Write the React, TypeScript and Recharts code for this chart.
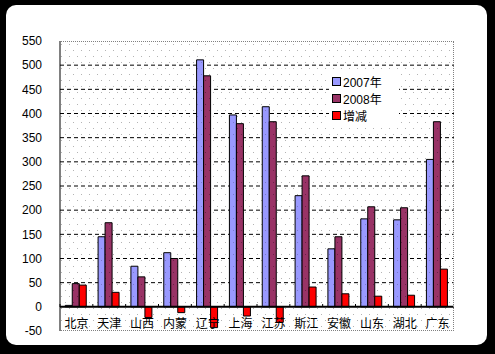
import React from 'react';
import { BarChart, Bar, XAxis, YAxis, CartesianGrid, ReferenceLine, Legend } from 'recharts';

const categories = ['北京', '天津', '山西', '内蒙', '辽宁', '上海', '江苏', '斯江', '安徽', '山东', '湖北', '广东'];
const values2007 = [3, 145, 84, 112, 511, 397, 414, 230, 120, 182, 180, 305];
const values2008 = [48, 174, 62, 100, 478, 379, 383, 271, 145, 207, 205, 383];
const valuesChange = [45, 30, -22, -12, -43, -19, -32, 41, 27, 22, 24, 78];
const yTicks = [-50, 0, 50, 100, 150, 200, 250, 300, 350, 400, 450, 500, 550];
const gridValues = [50, 100, 150, 200, 250, 300, 350, 400, 450, 500];
const seriesNames = ['2007年', '2008年', '增减'];
const seriesFills = ['url(#p2007)', 'url(#p2008)', '#FF0000'];
const legendColors = ['#9999FF', '#993366', '#FF0000'];

const data = categories.map((name, i) => ({
  name,
  y2007: values2007[i],
  y2008: values2008[i],
  change: valuesChange[i],
}));

const FONT = '"Liberation Sans", "Noto Sans CJK SC", Arial, sans-serif';

const CatTick = (props: any) => {
  const { x, y, payload, width, visibleTicksCount } = props;
  const band = width && visibleTicksCount ? width / visibleTicksCount : 32.8;
  const zeroY = y - 24;
  return (
    <g>
      <line x1={x - band / 2} x2={x - band / 2} y1={zeroY} y2={zeroY - 3} stroke="#000" />
      <text x={x} y={y} dy={-3} textAnchor="middle" fontSize={12} fill="#000" fontFamily={FONT}>
        {payload.value}
      </text>
    </g>
  );
};

const LegendContent = () => (
  <div style={{ background: '#fff', padding: '2px 3px', width: 64, fontFamily: FONT, fontSize: 12, color: '#000' }}>
    {seriesNames.map((n, i) => (
      <div key={n} style={{ display: 'flex', alignItems: 'center', height: 17 }}>
        <span style={{ display: 'inline-block', width: 7, height: 7, border: '1px solid #000', background: legendColors[i], marginRight: 2 }} />
        <span>{n}</span>
      </div>
    ))}
  </div>
);

export default function App() {
  return (
    <div style={{ position: 'fixed', left: 0, top: 0, width: 495, height: 354, background: '#000' }}>
      <div style={{ position: 'absolute', left: 6, top: 5, width: 481, height: 340, background: '#fff', borderRadius: 10 }} />
      <svg width={0} height={0} style={{ position: 'absolute' }}>
        <defs>
          <pattern id="dots" width={8} height={12} patternUnits="userSpaceOnUse">
            <rect width={8} height={12} fill="#fff" />
            <rect x={1} y={2} width={1} height={1} fill="#b4b4b4" />
            <rect x={5} y={8} width={1} height={1} fill="#b4b4b4" />
          </pattern>
          <pattern id="p2007" width={8} height={12} patternUnits="userSpaceOnUse">
            <rect width={8} height={12} fill="#9999FF" />
            <rect x={1} y={2} width={1} height={1} fill="#7a7acc" />
            <rect x={5} y={8} width={1} height={1} fill="#7a7acc" />
          </pattern>
          <pattern id="p2008" width={8} height={12} patternUnits="userSpaceOnUse">
            <rect width={8} height={12} fill="#993366" />
            <rect x={1} y={2} width={1} height={1} fill="#6a2347" />
            <rect x={5} y={8} width={1} height={1} fill="#6a2347" />
          </pattern>
        </defs>
      </svg>
      <div style={{ position: 'absolute', left: 0, top: 0 }}>
        <BarChart
          width={495}
          height={354}
          data={data}
          margin={{ top: 41, right: 41, left: 0, bottom: 0 }}
          barCategoryGap="16%"
          barGap={0}
          style={{ fontFamily: FONT }}
        >
          <CartesianGrid
            vertical={false}
            stroke="#000"
            strokeDasharray="4 3"
            fill="url(#dots)"
            fillOpacity={1}
            horizontalValues={gridValues}
          />
          <XAxis
            dataKey="name"
            height={23}
            axisLine={false}
            tickLine={false}
            tickSize={0}
            tickMargin={0}
            interval={0}
            tick={<CatTick />}
          />
          <YAxis
            domain={[-50, 550]}
            ticks={yTicks}
            width={60}
            interval={0}
            axisLine={{ stroke: '#000' }}
            tickLine={false}
            tickSize={0}
            tickMargin={18}
            tick={{ fill: '#000', fontSize: 12, fontFamily: FONT }}
          />
          <Bar dataKey="y2007" name={seriesNames[0]} fill={seriesFills[0]} stroke="#000" strokeWidth={1} isAnimationActive={false} />
          <Bar dataKey="y2008" name={seriesNames[1]} fill={seriesFills[1]} stroke="#000" strokeWidth={1} isAnimationActive={false} />
          <Bar dataKey="change" name={seriesNames[2]} fill={seriesFills[2]} stroke="#000" strokeWidth={1} isAnimationActive={false} />
          <ReferenceLine y={0} stroke="#000" strokeWidth={2} />
          <Legend
            layout="vertical"
            align="center"
            verticalAlign="middle"
            content={<LegendContent />}
            wrapperStyle={{ left: 329, top: 71, width: 70 }}
          />
        </BarChart>
      </div>
      <div
        style={{
          position: 'absolute',
          left: 60,
          top: 41,
          width: 394,
          height: 290,
          borderTop: '1px dotted #808080',
          borderRight: '1px dotted #808080',
          borderBottom: '1px dotted #808080',
          boxSizing: 'border-box',
          pointerEvents: 'none',
        }}
      />
    </div>
  );
}
